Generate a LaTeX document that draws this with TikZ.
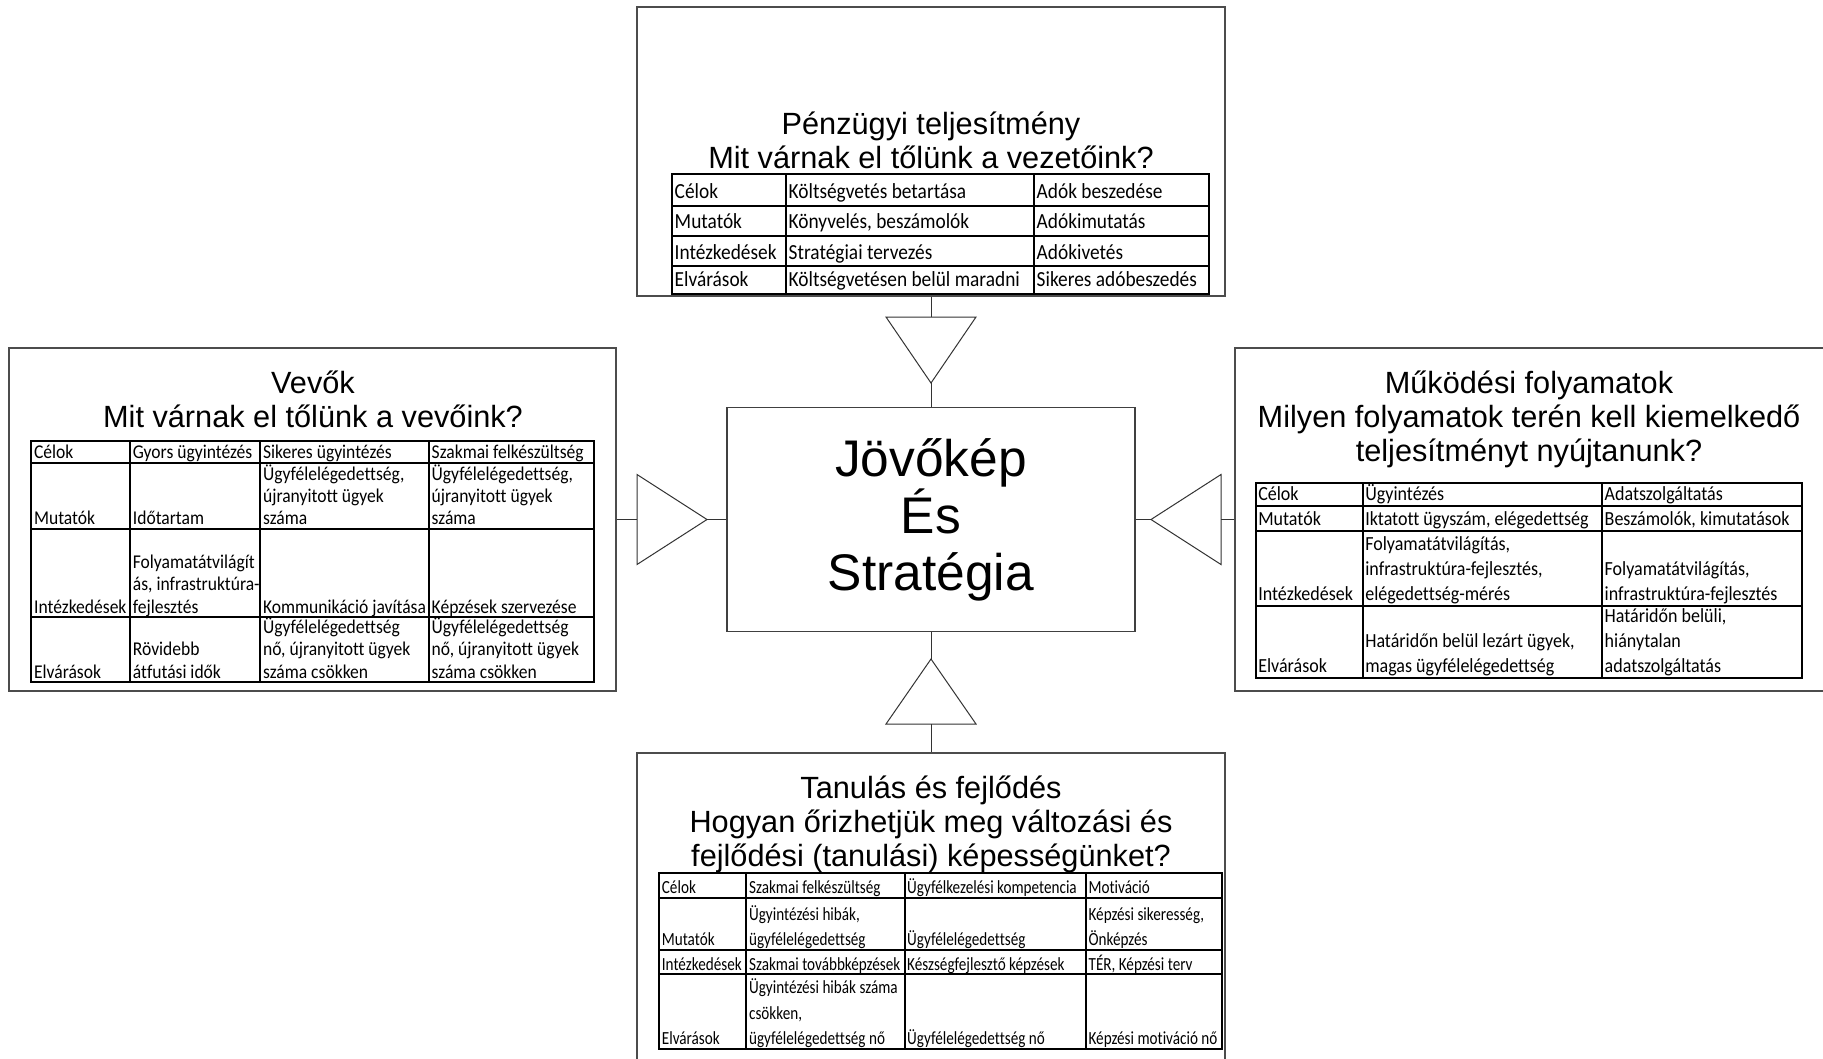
\documentclass[tikz,border=0pt]{standalone}
\usepackage{fontspec}
\setmainfont{Liberation Sans}
\newfontfamily\calib[FakeStretch=0.9,Ligatures=NoCommon]{Carlito}
\newfontfamily\calibn[FakeStretch=0.82,Ligatures=NoCommon]{Carlito}

\tikzset{
 panel/.style={draw=black!70, line width=1.2pt, inner sep=0pt},
 head/.style={align=center, inner sep=0pt, font=\fontsize{30.7}{34}\selectfont},
 core/.style={draw=black!75, line width=1.2pt, align=center, font=\fontsize{51.5}{57}\selectfont},
 link/.style={draw=black!80, line width=1pt},
 tri/.style={draw=black!80, line width=1pt},
 grid/.style={line width=2pt},
 cell/.style={anchor=south west, inner xsep=2.5pt, inner ysep=0pt, align=left},
 celltop/.style={cell, text depth=7pt, font=\calib\fontsize{21.5}{26}\selectfont},
 cellleft/.style={cell, text depth=4pt, font=\calib\fontsize{19.5}{22.3}\selectfont},
 cellright/.style={cell, text depth=5.5pt, font=\calib\fontsize{20}{25}\selectfont},
 cellbot/.style={cell, text depth=4pt, font=\calibn\fontsize{18.5}{25.5}\selectfont}
}

\newcommand{\pointer}[5]{% base x, base y, rotation, length, name
 \begin{scope}[shift={(#1,#2)},rotate=#3]
 \coordinate (#5b) at (0,0);
 \coordinate (#5a) at (0,#4);
 \draw[tri] (-45,0) -- (45,0) -- (#5a) -- cycle;
 \end{scope}
}

\begin{document}
\begin{tikzpicture}[x=1pt,y=-1pt]
\fill[white, use as bounding box] (0,0) rectangle (1823,1058);
\clip (0,0) rectangle (1823,1058);

% panels
\node[panel, minimum width=588pt, minimum height=289pt] (fin) at (931,151.5) {};
\node[panel, minimum width=607pt, minimum height=343pt] (cust) at (312.5,519.5) {};
\node[panel, minimum width=590pt, minimum height=343pt] (proc) at (1530,519.5) {};
\node[panel, minimum width=588pt, minimum height=317pt] (learn) at (931,911.5) {};
\node[core, minimum width=408pt, minimum height=224pt] (vis) at (931,519.5) {Jövőkép\\És\\Stratégia};

\node[head] (finT) at (931,140) {Pénzügyi teljesítmény\\Mit várnak el tőlünk a vezetőink?};
\node[head] (custT) at (313,399) {Vevők\\Mit várnak el tőlünk a vevőink?};
\node[head] (procT) at (1529,419) {Működési folyamatok\\Milyen folyamatok terén kell kiemelkedő\\teljesítményt nyújtanunk?};
\node[head] (learnT) at (931,824.5) {Tanulás és fejlődés\\Hogyan őrizhetjük meg változási és\\fejlődési (tanulási) képességünket?};

% connectors
\pointer{931}{317}{0}{66}{ft}
\draw[link] (fin.south) -- (ftb);
\draw[link] (fta) -- (vis.north);
\pointer{637}{519.5}{90}{70}{ct}
\draw[link] (cust.east) -- (ctb);
\draw[link] (cta) -- (vis.west);
\pointer{1221}{519.5}{-90}{70}{pr}
\draw[link] (vis.east) -- (pra);
\draw[link] (prb) -- (proc.west);
\pointer{931}{724}{180}{65}{lt}
\draw[link] (vis.south) -- (lta);
\draw[link] (ltb) -- (learn.north);

% top table
\draw[grid] (672,174.4) rectangle (1209,294.1);
\foreach \y in {205.8,236,266.2} \draw[grid] (672,\y) -- (1209,\y);
\foreach \x in {786,1034} \draw[grid] (\x,174.4) -- (\x,294.1);
\node[celltop] (f11) at (672,205.8) {Célok};
\node[celltop] (f12) at (786,205.8) {Költségvetés betartása};
\node[celltop] (f13) at (1034,205.8) {Adók beszedése};
\node[celltop] (f21) at (672,236) {Mutatók};
\node[celltop] (f22) at (786,236) {Könyvelés, beszámolók};
\node[celltop] (f23) at (1034,236) {Adókimutatás};
\node[celltop] (f31) at (672,266.2) {Intézkedések};
\node[celltop] (f32) at (786,266.2) {Stratégiai tervezés};
\node[celltop] (f33) at (1034,266.2) {Adókivetés};
\node[celltop] (f41) at (672,294.1) {Elvárások};
\node[celltop] (f42) at (786,294.1) {Költségvetésen belül maradni};
\node[celltop] (f43) at (1034,294.1) {Sikeres adóbeszedés};

% left table
\draw[grid] (31.4,440.6) rectangle (594,682.4);
\foreach \y in {462.7,529,617.3} \draw[grid] (31.4,\y) -- (594,\y);
\foreach \x in {130.2,260.4,429} \draw[grid] (\x,440.6) -- (\x,682.4);
\node[cellleft] (c11) at (31.4,462.7) {Célok};
\node[cellleft] (c12) at (130.2,462.7) {Gyors ügyintézés};
\node[cellleft] (c13) at (260.4,462.7) {Sikeres ügyintézés};
\node[cellleft] (c14) at (429,462.7) {Szakmai felkészültség};
\node[cellleft] (c21) at (31.4,529) {Mutatók};
\node[cellleft] (c22) at (130.2,529) {Időtartam};
\node[cellleft] (c23) at (260.4,529) {Ügyfélelégedettség,\\újranyitott ügyek\\száma};
\node[cellleft] (c24) at (429,529) {Ügyfélelégedettség,\\újranyitott ügyek\\száma};
\node[cellleft] (c31) at (31.4,617.3) {Intézkedések};
\node[cellleft] (c32) at (130.2,617.3) {Folyamatátvilágít\\ás, infrastruktúra-\\fejlesztés};
\node[cellleft] (c33) at (260.4,617.3) {Kommunikáció javítása};
\node[cellleft] (c34) at (429,617.3) {Képzések szervezése};
\node[cellleft] (c41) at (31.4,682.4) {Elvárások};
\node[cellleft] (c42) at (130.2,682.4) {Rövidebb\\átfutási idők};
\node[cellleft] (c43) at (260.4,682.4) {Ügyfélelégedettség\\nő, újranyitott ügyek\\száma csökken};
\node[cellleft] (c44) at (429,682.4) {Ügyfélelégedettség\\nő, újranyitott ügyek\\száma csökken};

% right table
\draw[grid] (1255.6,482.5) rectangle (1802,677.8);
\foreach \y in {505.7,531.3,605.7} \draw[grid] (1255.6,\y) -- (1802,\y);
\foreach \x in {1362.6,1602} \draw[grid] (\x,482.5) -- (\x,677.8);
\node[cellright] (p11) at (1255.6,505.7) {Célok};
\node[cellright] (p12) at (1362.6,505.7) {Ügyintézés};
\node[cellright] (p13) at (1602,505.7) {Adatszolgáltatás};
\node[cellright] (p21) at (1255.6,531.3) {Mutatók};
\node[cellright] (p22) at (1362.6,531.3) {Iktatott ügyszám, elégedettség};
\node[cellright] (p23) at (1602,531.3) {Beszámolók, kimutatások};
\node[cellright] (p31) at (1255.6,605.7) {Intézkedések};
\node[cellright] (p32) at (1362.6,605.7) {Folyamatátvilágítás,\\infrastruktúra-fejlesztés,\\elégedettség-mérés};
\node[cellright] (p33) at (1602,605.7) {Folyamatátvilágítás,\\infrastruktúra-fejlesztés};
\node[cellright] (p41) at (1255.6,677.8) {Elvárások};
\node[cellright] (p42) at (1362.6,677.8) {Határidőn belül lezárt ügyek,\\magas ügyfélelégedettség};
\node[cellright] (p43) at (1602,677.8) {Határidőn belüli,\\hiánytalan\\adatszolgáltatás};

% bottom table
\draw[grid] (659.2,873.1) rectangle (1221.9,1048.7);
\foreach \y in {897.5,949.9,974.3} \draw[grid] (659.2,\y) -- (1221.9,\y);
\foreach \x in {746.4,904.5,1085.9} \draw[grid] (\x,873.1) -- (\x,1048.7);
\node[cellbot] (l11) at (659.2,897.5) {Célok};
\node[cellbot] (l12) at (746.4,897.5) {Szakmai felkészültség};
\node[cellbot] (l13) at (904.5,897.5) {Ügyfélkezelési kompetencia};
\node[cellbot] (l14) at (1085.9,897.5) {Motiváció};
\node[cellbot] (l21) at (659.2,949.9) {Mutatók};
\node[cellbot] (l22) at (746.4,949.9) {Ügyintézési hibák,\\ügyfélelégedettség};
\node[cellbot] (l23) at (904.5,949.9) {Ügyfélelégedettség};
\node[cellbot] (l24) at (1085.9,949.9) {Képzési sikeresség,\\Önképzés};
\node[cellbot] (l31) at (659.2,974.3) {Intézkedések};
\node[cellbot] (l32) at (746.4,974.3) {Szakmai továbbképzések};
\node[cellbot] (l33) at (904.5,974.3) {Készségfejlesztő képzések};
\node[cellbot] (l34) at (1085.9,974.3) {TÉR, Képzési terv};
\node[cellbot] (l41) at (659.2,1048.7) {Elvárások};
\node[cellbot] (l42) at (746.4,1048.7) {Ügyintézési hibák száma\\csökken,\\ügyfélelégedettség nő};
\node[cellbot] (l43) at (904.5,1048.7) {Ügyfélelégedettség nő};
\node[cellbot] (l44) at (1085.9,1048.7) {Képzési motiváció nő};
\end{tikzpicture}
\end{document}
